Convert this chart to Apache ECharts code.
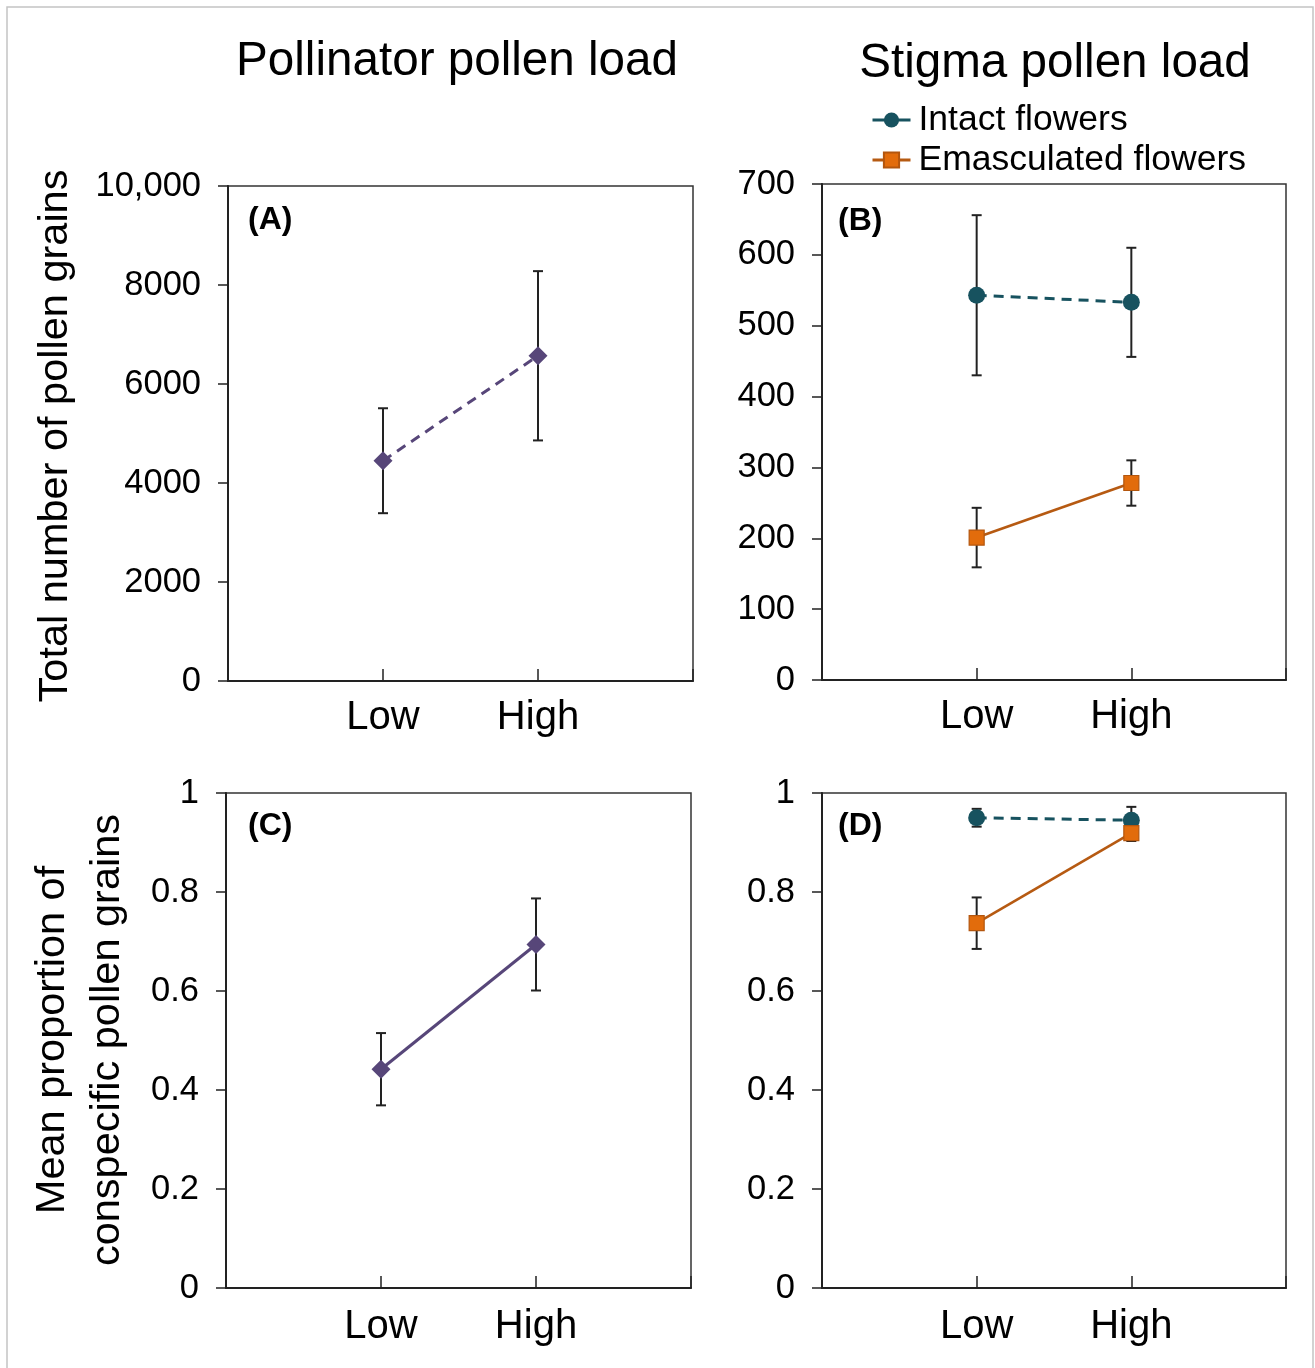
<!DOCTYPE html>
<html>
<head>
<meta charset="utf-8">
<script src="https://cdn.jsdelivr.net/npm/echarts@6/dist/echarts.min.js"></script>
<style>
html,body{margin:0;padding:0;background:#fff;}
#chart{width:1315px;height:1368px;}
</style>
</head>
<body>
<div id="chart"></div>
<script>
// ---- data ----
const categories = ['Low', 'High'];

// (A) pollinator pollen load: total number of pollen grains
const pollinatorLoadMean = [4450, 6570];
const pollinatorLoadErr  = [1060, 1710];

// (B) stigma pollen load: total number of pollen grains
const stigmaIntactMean = [543, 533];
const stigmaIntactErr  = [113, 77];
const stigmaEmascMean  = [201, 278];
const stigmaEmascErr   = [42, 32];

// (C) pollinator: mean proportion of conspecific pollen grains
const pollinatorPropMean = [0.442, 0.694];
const pollinatorPropErr  = [0.073, 0.093];

// (D) stigma: mean proportion of conspecific pollen grains
const stigmaIntactPropMean = [0.950, 0.945];
const stigmaIntactPropErr  = [0.018, 0.027];
const stigmaEmascPropMean  = [0.737, 0.919];
const stigmaEmascPropErr   = [0.052, 0.016];

// tick labels
const yTicksA = ['0', '2000', '4000', '6000', '8000', '10,000'];
const yTicksB = ['0', '100', '200', '300', '400', '500', '600', '700'];
const yTicksProp = ['0', '0.2', '0.4', '0.6', '0.8', '1'];

const seriesNames = ['Intact flowers', 'Emasculated flowers'];

// ---- styles ----
const FONT = '"Liberation Sans", Arial, Helvetica, sans-serif';
const PURPLE = '#574679';
const TEAL = '#17525f';
const ORANGE = '#e26c0c';
const ORANGE_LINE = '#b65a12';
const INK = '#222222';

const chart = echarts.init(document.getElementById('chart'), null, {renderer: 'canvas'});

const grids = [
  {left: 228, top: 186, width: 465, height: 495},
  {left: 822, top: 184, width: 464, height: 496},
  {left: 226, top: 793, width: 465, height: 495},
  {left: 822, top: 793, width: 464, height: 495}
].map(g => Object.assign({show: true, borderColor: '#333', borderWidth: 1.5, backgroundColor: 'transparent'}, g));

function xAxisFor(i) {
  return {
    gridIndex: i, type: 'value', min: 0, max: 3, interval: 1,
    axisLine: {show: true, onZero: false, lineStyle: {color: INK, width: 2}},
    axisTick: {show: true, inside: true, length: 12, lineStyle: {color: INK, width: 1.5}},
    axisLabel: {
      fontSize: 40, fontFamily: FONT, color: '#000', margin: i < 2 ? 17 : 19,
      formatter: v => categories[v - 1] || ''
    },
    splitLine: {show: false}
  };
}
function yAxisFor(i, max, interval, labels) {
  return {
    gridIndex: i, type: 'value', min: 0, max: max, interval: interval,
    axisLine: {show: true, lineStyle: {color: INK, width: 2}},
    axisTick: {show: true, inside: false, length: 10, lineStyle: {color: INK, width: 1.5}},
    axisLabel: {
      fontSize: 34.5, fontFamily: FONT, color: '#000', margin: 27,
      formatter: v => labels[Math.round(v / interval)]
    },
    splitLine: {show: false}
  };
}

function pts(means) { return means.map((m, i) => [i + 1, m]); }
function errs(means, e) { return means.map((m, i) => [i + 1, m - e[i], m + e[i]]); }

function errorSeries(idx, means, e) {
  return {
    type: 'custom', xAxisIndex: idx, yAxisIndex: idx, z: 1,
    data: errs(means, e),
    encode: {x: 0, y: [1, 2]},
    silent: true,
    renderItem: function (params, api) {
      const x = api.value(0);
      const top = api.coord([x, api.value(2)]);
      const bot = api.coord([x, api.value(1)]);
      const w = 5;
      const st = {stroke: INK, lineWidth: 2, fill: null};
      return {
        type: 'group',
        children: [
          {type: 'line', shape: {x1: top[0], y1: top[1], x2: bot[0], y2: bot[1]}, style: st},
          {type: 'line', shape: {x1: top[0] - w, y1: top[1], x2: top[0] + w, y2: top[1]}, style: st},
          {type: 'line', shape: {x1: bot[0] - w, y1: bot[1], x2: bot[0] + w, y2: bot[1]}, style: st}
        ]
      };
    }
  };
}

function lineSeries(idx, name, means, opt) {
  return {
    type: 'line', name: name, xAxisIndex: idx, yAxisIndex: idx, z: 3,
    data: pts(means),
    symbol: opt.symbol, symbolSize: opt.size,
    itemStyle: {color: opt.fill, borderColor: opt.border || opt.fill, borderWidth: opt.border ? 1.2 : 0},
    lineStyle: {color: opt.line, width: opt.width || 3, type: opt.dash ? [10, 7] : 'solid'},
    emphasis: {disabled: true},
    animation: false
  };
}

const purpleDash = {symbol: 'diamond', size: 19, fill: PURPLE, line: PURPLE, dash: true};
const purpleSolid = {symbol: 'diamond', size: 19, fill: PURPLE, line: PURPLE, dash: false};
const tealDash = {symbol: 'circle', size: 17, fill: TEAL, line: TEAL, dash: true};
const orangeSolid = {symbol: 'rect', size: 15, fill: ORANGE, border: '#b3560e', line: ORANGE_LINE, dash: false, width: 2.6};

function gtext(text, x, y, size, opts) {
  return Object.assign({
    type: 'text', x: x, y: y, silent: true,
    style: Object.assign({
      text: text, fill: '#000', font: (opts && opts.weight ? opts.weight + ' ' : '') + size + 'px ' + FONT,
      textAlign: 'center', textVerticalAlign: 'middle'
    }, opts && opts.style)
  }, opts && opts.el);
}

const option = {
  animation: false,
  backgroundColor: '#fff',
  grid: grids,
  xAxis: [0, 1, 2, 3].map(xAxisFor),
  yAxis: [
    yAxisFor(0, 10000, 2000, yTicksA),
    yAxisFor(1, 700, 100, yTicksB),
    yAxisFor(2, 1, 0.2, yTicksProp),
    yAxisFor(3, 1, 0.2, yTicksProp)
  ],
  legend: {
    data: seriesNames,
    orient: 'vertical',
    left: 866, top: 97,
    itemWidth: 38, itemHeight: 19, itemGap: 4,
    textStyle: {fontSize: 35.5, fontFamily: FONT, color: '#000', padding: [0, 0, 0, 3]},
    lineStyle: {type: 'solid', width: 3},
    selectedMode: false
  },
  series: [
    errorSeries(0, pollinatorLoadMean, pollinatorLoadErr),
    lineSeries(0, 'Pollinator load', pollinatorLoadMean, purpleDash),

    errorSeries(1, stigmaIntactMean, stigmaIntactErr),
    errorSeries(1, stigmaEmascMean, stigmaEmascErr),
    lineSeries(1, seriesNames[0], stigmaIntactMean, tealDash),
    lineSeries(1, seriesNames[1], stigmaEmascMean, orangeSolid),

    errorSeries(2, pollinatorPropMean, pollinatorPropErr),
    lineSeries(2, 'Pollinator proportion', pollinatorPropMean, purpleSolid),

    errorSeries(3, stigmaIntactPropMean, stigmaIntactPropErr),
    errorSeries(3, stigmaEmascPropMean, stigmaEmascPropErr),
    lineSeries(3, seriesNames[0], stigmaIntactPropMean, tealDash),
    lineSeries(3, seriesNames[1], stigmaEmascPropMean, orangeSolid)
  ],
  graphic: [
    {type: 'rect', silent: true, shape: {x: 7, y: 7, width: 1306, height: 1380},
     style: {fill: 'none', stroke: '#c4c4c4', lineWidth: 1.5}},
    gtext('Pollinator pollen load', 457, 62, 47.6),
    gtext('Stigma pollen load', 1055, 64, 47.6),
    gtext('(A)', 248, 220, 32, {weight: 'bold', style: {textAlign: 'left'}}),
    gtext('(B)', 838, 221, 32, {weight: 'bold', style: {textAlign: 'left'}}),
    gtext('(C)', 248, 826, 32, {weight: 'bold', style: {textAlign: 'left'}}),
    gtext('(D)', 838, 826, 32, {weight: 'bold', style: {textAlign: 'left'}}),
    gtext('Total number of pollen grains', 56, 436, 41.5, {el: {rotation: Math.PI / 2}}),
    gtext('Mean proportion of\nconspecific pollen grains', 80, 1040, 41.5,
      {el: {rotation: Math.PI / 2}, style: {lineHeight: 55}})
  ]
};

chart.setOption(option);
</script>
</body>
</html>
